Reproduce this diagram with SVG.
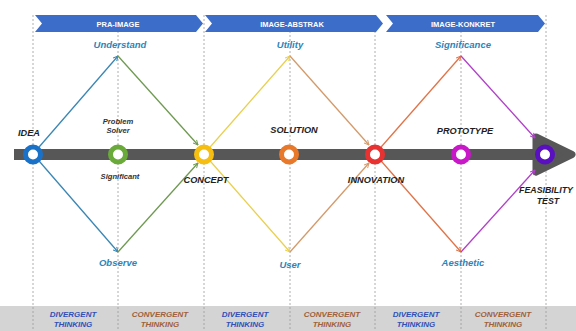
<svg xmlns="http://www.w3.org/2000/svg" width="576" height="331" viewBox="0 0 576 331">
  <defs>
    <style>
      .guide { stroke: #9a9a9a; stroke-width: 0.8; stroke-dasharray: 2 2; fill: none; }
      .banner { fill: #3c6dc8; }
      .banner-txt { font-family: "Liberation Sans", Arial, sans-serif; font-size: 7.5px; font-weight: bold; fill: #ffffff; text-anchor: middle; }
      .lbl { font-family: "Liberation Sans", Arial, sans-serif; font-size: 9.5px; font-weight: bold; font-style: italic; fill: #2f84b8; text-anchor: middle; }
      .node-txt { font-family: "Liberation Sans", Arial, sans-serif; font-size: 9.2px; font-weight: bold; font-style: italic; fill: #1e1e1e; text-anchor: middle; }
      .small-txt { font-family: "Liberation Sans", Arial, sans-serif; font-size: 7.6px; font-weight: bold; font-style: italic; fill: #333333; text-anchor: middle; }
      .band-txt { font-family: "Liberation Sans", Arial, sans-serif; font-size: 8px; font-weight: bold; font-style: italic; text-anchor: middle; }
      .div { fill: #3050b8; }
      .conv { fill: #a0603a; }
      .ring { fill: #ffffff; stroke-width: 5; }
      .edge { fill: none; stroke-width: 1.3; }
    </style>
    <marker id="m-blue" viewBox="0 0 10 10" refX="9" refY="5" markerWidth="6" markerHeight="6" orient="auto" markerUnits="userSpaceOnUse"><path d="M1,1 L9,5 L1,9" fill="none" stroke="#3a86b4" stroke-width="1.6"/></marker>
    <marker id="m-olive" viewBox="0 0 10 10" refX="9" refY="5" markerWidth="6" markerHeight="6" orient="auto" markerUnits="userSpaceOnUse"><path d="M1,1 L9,5 L1,9" fill="none" stroke="#6f9a52" stroke-width="1.6"/></marker>
    <marker id="m-yellow" viewBox="0 0 10 10" refX="9" refY="5" markerWidth="6" markerHeight="6" orient="auto" markerUnits="userSpaceOnUse"><path d="M1,1 L9,5 L1,9" fill="none" stroke="#e8d050" stroke-width="1.6"/></marker>
    <marker id="m-tan" viewBox="0 0 10 10" refX="9" refY="5" markerWidth="6" markerHeight="6" orient="auto" markerUnits="userSpaceOnUse"><path d="M1,1 L9,5 L1,9" fill="none" stroke="#d49a6a" stroke-width="1.6"/></marker>
    <marker id="m-orange" viewBox="0 0 10 10" refX="9" refY="5" markerWidth="6" markerHeight="6" orient="auto" markerUnits="userSpaceOnUse"><path d="M1,1 L9,5 L1,9" fill="none" stroke="#e07448" stroke-width="1.6"/></marker>
    <marker id="m-purple" viewBox="0 0 10 10" refX="9" refY="5" markerWidth="6" markerHeight="6" orient="auto" markerUnits="userSpaceOnUse"><path d="M1,1 L9,5 L1,9" fill="none" stroke="#b040c8" stroke-width="1.6"/></marker>
  </defs>

  <rect width="576" height="331" fill="#ffffff"/>

  <!-- bottom band -->
  <rect x="0" y="306" width="576" height="25" fill="#d4d4d4"/>

  <!-- phase guides -->
  <g id="guides">
    <line class="guide" x1="33" y1="15" x2="33" y2="331"/>
    <line class="guide" x1="118" y1="15" x2="118" y2="331"/>
    <line class="guide" x1="204" y1="15" x2="204" y2="331"/>
    <line class="guide" x1="290" y1="15" x2="290" y2="331"/>
    <line class="guide" x1="375" y1="15" x2="375" y2="331"/>
    <line class="guide" x1="461" y1="15" x2="461" y2="331"/>
    <line class="guide" x1="546" y1="15" x2="546" y2="331"/>
  </g>

  <!-- phase banners -->
  <g id="banner-pra">
    <polygon class="banner" points="35,15 196,15 203,23.5 196,32 35,32 42,23.5"/>
    <text class="banner-txt" x="118" y="26.5">PRA-IMAGE</text>
  </g>
  <g id="banner-abstrak">
    <polygon class="banner" points="205,15 376,15 383,23.5 376,32 205,32 212,23.5"/>
    <text class="banner-txt" x="292" y="26.5">IMAGE-ABSTRAK</text>
  </g>
  <g id="banner-konkret">
    <polygon class="banner" points="386,15 538,15 545,23.5 538,32 386,32 393,23.5"/>
    <text class="banner-txt" x="463" y="26.5">IMAGE-KONKRET</text>
  </g>

  <!-- timeline bar with arrowhead -->
  <g id="timeline">
    <rect x="14" y="149" width="524" height="11" fill="#575757"/>
    <polygon points="536,137 572,154.5 536,172" fill="#575757" stroke="#575757" stroke-width="7" stroke-linejoin="round"/>
  </g>

  <!-- connectors -->
  <g id="connectors">
    <line class="edge" stroke="#3a86b4" x1="33" y1="154" x2="118" y2="56" marker-end="url(#m-blue)"/>
    <line class="edge" stroke="#3a86b4" x1="33" y1="154" x2="118" y2="252" marker-end="url(#m-blue)"/>
    <line class="edge" stroke="#6f9a52" x1="118" y1="56" x2="198" y2="145" marker-end="url(#m-olive)"/>
    <line class="edge" stroke="#6f9a52" x1="118" y1="252" x2="198" y2="163" marker-end="url(#m-olive)"/>

    <line class="edge" stroke="#e8d050" x1="204" y1="154" x2="290" y2="56" marker-end="url(#m-yellow)"/>
    <line class="edge" stroke="#e8d050" x1="204" y1="154" x2="290" y2="252" marker-end="url(#m-yellow)"/>
    <line class="edge" stroke="#d49a6a" x1="290" y1="56" x2="369" y2="145" marker-end="url(#m-tan)"/>
    <line class="edge" stroke="#d49a6a" x1="290" y1="252" x2="369" y2="163" marker-end="url(#m-tan)"/>

    <line class="edge" stroke="#e07448" x1="375" y1="154" x2="461" y2="56" marker-end="url(#m-orange)"/>
    <line class="edge" stroke="#e07448" x1="375" y1="154" x2="461" y2="252" marker-end="url(#m-orange)"/>
    <line class="edge" stroke="#b040c8" x1="461" y1="56" x2="535" y2="138" marker-end="url(#m-purple)"/>
    <line class="edge" stroke="#b040c8" x1="461" y1="252" x2="535" y2="170" marker-end="url(#m-purple)"/>
  </g>

  <!-- diamond tip labels -->
  <text class="lbl" x="120" y="48">Understand</text>
  <text class="lbl" x="118" y="266">Observe</text>
  <text class="lbl" x="290" y="48">Utility</text>
  <text class="lbl" x="290" y="268">User</text>
  <text class="lbl" x="463" y="48">Significance</text>
  <text class="lbl" x="463" y="266">Aesthetic</text>

  <!-- nodes -->
  <g id="node-idea">
    <circle class="ring" cx="33" cy="154.5" r="7.5" stroke="#1a72c8"/>
    <text class="node-txt" x="29" y="136">IDEA</text>
  </g>
  <g id="node-problem-solver">
    <circle class="ring" cx="118" cy="154.5" r="7.5" stroke="#6aaa3a"/>
    <text class="small-txt" x="118" y="124">Problem</text>
    <text class="small-txt" x="118" y="133">Solver</text>
    <text class="small-txt" x="120" y="179">Significant</text>
  </g>
  <g id="node-concept">
    <circle class="ring" cx="204" cy="154.5" r="7.5" stroke="#f5be10"/>
    <text class="node-txt" x="206" y="183">CONCEPT</text>
  </g>
  <g id="node-solution">
    <circle class="ring" cx="289" cy="154.5" r="7.5" stroke="#e8782a"/>
    <text class="node-txt" x="294" y="133">SOLUTION</text>
  </g>
  <g id="node-innovation">
    <circle class="ring" cx="375" cy="154.5" r="7.5" stroke="#e83232"/>
    <text class="node-txt" x="376" y="183">INNOVATION</text>
  </g>
  <g id="node-prototype">
    <circle class="ring" cx="461" cy="154.5" r="7.5" stroke="#c818c8"/>
    <text class="node-txt" x="465" y="134">PROTOTYPE</text>
  </g>
  <g id="node-feasibility">
    <circle class="ring" cx="545" cy="154.5" r="7.5" stroke="#5a10c0"/>
    <text class="node-txt" x="546" y="193" style="font-size:8.8px">FEASIBILITY</text>
    <text class="node-txt" x="548" y="204" style="font-size:8.8px">TEST</text>
  </g>

  <!-- thinking modes -->
  <g id="band-labels">
    <text class="band-txt div" x="73" y="317">DIVERGENT</text>
    <text class="band-txt div" x="73" y="327">THINKING</text>
    <text class="band-txt conv" x="160" y="317">CONVERGENT</text>
    <text class="band-txt conv" x="160" y="327">THINKING</text>
    <text class="band-txt div" x="245" y="317">DIVERGENT</text>
    <text class="band-txt div" x="245" y="327">THINKING</text>
    <text class="band-txt conv" x="332" y="317">CONVERGENT</text>
    <text class="band-txt conv" x="332" y="327">THINKING</text>
    <text class="band-txt div" x="416" y="317">DIVERGENT</text>
    <text class="band-txt div" x="416" y="327">THINKING</text>
    <text class="band-txt conv" x="503" y="317">CONVERGENT</text>
    <text class="band-txt conv" x="503" y="327">THINKING</text>
  </g>
</svg>
